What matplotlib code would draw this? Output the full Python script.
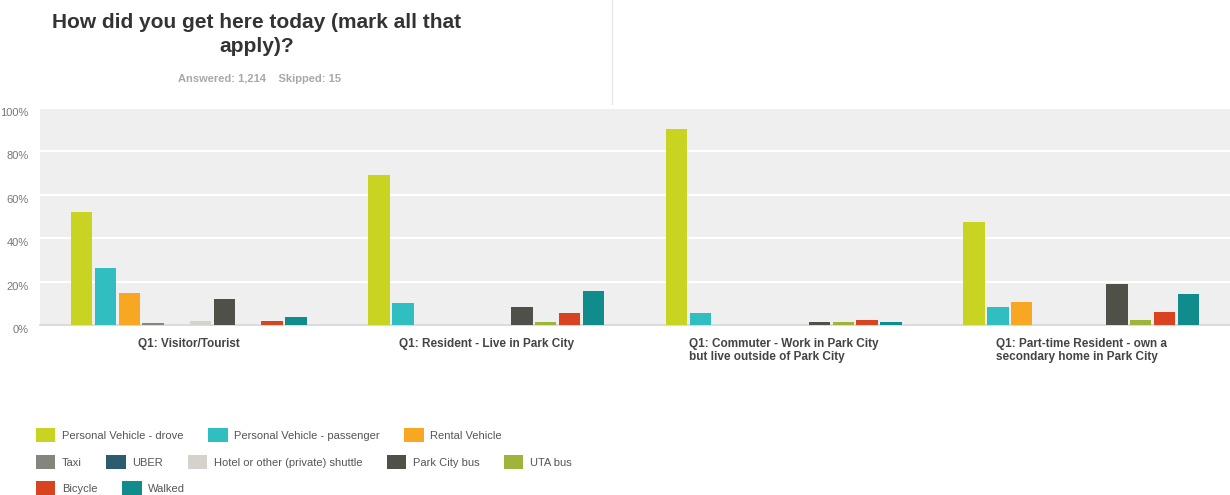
import matplotlib.pyplot as plt
import numpy as np
from matplotlib.patches import Patch

plt.rcParams['font.family'] = ['Liberation Sans', 'DejaVu Sans']

# Survey data: share of respondents (%) per travel mode, for each group
groups = ['Q1: Visitor/Tourist',
          'Q1: Resident - Live in Park City',
          'Q1: Commuter - Work in Park City\nbut live outside of Park City',
          'Q1: Part-time Resident - own a\nsecondary home in Park City']

modes = ['Personal Vehicle - drove', 'Personal Vehicle - passenger', 'Rental Vehicle',
         'Taxi', 'UBER', 'Hotel or other (private) shuttle', 'Park City bus',
         'UTA bus', 'Bicycle', 'Walked']

drove = [52.3, 69.2, 90.3, 47.4]
passenger = [26.2, 10.3, 5.4, 8.3]
rental = [14.9, 0.0, 0.0, 10.4]
taxi = [1.1, 0.0, 0.0, 0.0]
uber = [0.0, 0.0, 0.0, 0.0]
shuttle = [2.0, 0.0, 0.0, 0.0]
pc_bus = [11.8, 8.5, 1.2, 18.9]
uta_bus = [0.0, 1.4, 1.2, 2.3]
bicycle = [1.7, 5.4, 2.3, 5.9]
walked = [3.8, 15.8, 1.2, 14.3]

series = [drove, passenger, rental, taxi, uber, shuttle, pc_bus, uta_bus, bicycle, walked]
colors = ['#c8d421', '#31bec1', '#f8a723', '#85857e', '#2b5c70', '#d4d2cb',
          '#4f5047', '#9db53a', '#d8441f', '#108c8c']

fig = plt.figure(figsize=(12.3, 4.95), dpi=100)
ax = fig.add_axes([40 / 1230, 1 - 325 / 495, 1 - 40 / 1230, 217 / 495])

x = np.arange(len(groups))
pitch = 0.08
width = 0.072
for i, (vals, col) in enumerate(zip(series, colors)):
    ax.bar(x + (i - 4.5) * pitch, vals, width=width, color=col, linewidth=0, zorder=3)

ax.set_xlim(-0.5, len(groups) - 0.5)
ax.set_ylim(0, 100)
ax.set_facecolor('#efefef')
ax.set_yticks(range(0, 101, 20))
ax.set_yticklabels([f'{v}%' for v in range(0, 101, 20)], fontsize=8, color='#777777')
# labels sit a little below their gridlines in the original
plt.setp(ax.get_yticklabels(), va='top')
ax.set_xticks(x)
ax.set_xticklabels(groups, fontsize=8.5, fontweight='bold', color='#444444',
                   multialignment='left', va='top')
ax.tick_params(axis='both', length=0)
ax.tick_params(axis='y', pad=8)
ax.tick_params(axis='x', pad=9)

ax.yaxis.grid(True, color='white', linewidth=1.5, zorder=0)
ax.set_axisbelow(True)
for side in ['top', 'right', 'left']:
    ax.spines[side].set_visible(False)
ax.spines['bottom'].set_color('#d4d4d4')
ax.spines['bottom'].set_linewidth(1.2)

# Title block
fig.text(257 / 1230, 1 - 13 / 495, 'How did you get here today (mark all that\napply)?',
         ha='center', va='top', fontsize=15, fontweight='bold', color='#333333',
         linespacing=1.35)
fig.text(259 / 1230, 1 - 79 / 495, 'Answered: 1,214    Skipped: 15',
         ha='center', va='center', fontsize=8, fontweight='bold', color='#a8a8a8')
fig.add_artist(plt.Line2D([612 / 1230, 612 / 1230], [1, 1 - 104 / 495],
                          color='#e6e6e6', linewidth=1))

# Legend in three rows, like the original
rows = [[0, 1, 2], [3, 4, 5, 6, 7], [8, 9]]
row_y = [435, 462, 488]
for idx, yy in zip(rows, row_y):
    handles = [Patch(facecolor=colors[k], edgecolor='none', label=modes[k]) for k in idx]
    fig.legend(handles=handles, loc='center left', bbox_to_anchor=(36 / 1230, 1 - yy / 495),
               ncol=len(idx), frameon=False, fontsize=8, labelcolor='#555555',
               handlelength=1.75, handleheight=1.45, handletextpad=0.6,
               columnspacing=2.2, borderpad=0, borderaxespad=0)

plt.savefig('out.png', dpi=100)
plt.close()
